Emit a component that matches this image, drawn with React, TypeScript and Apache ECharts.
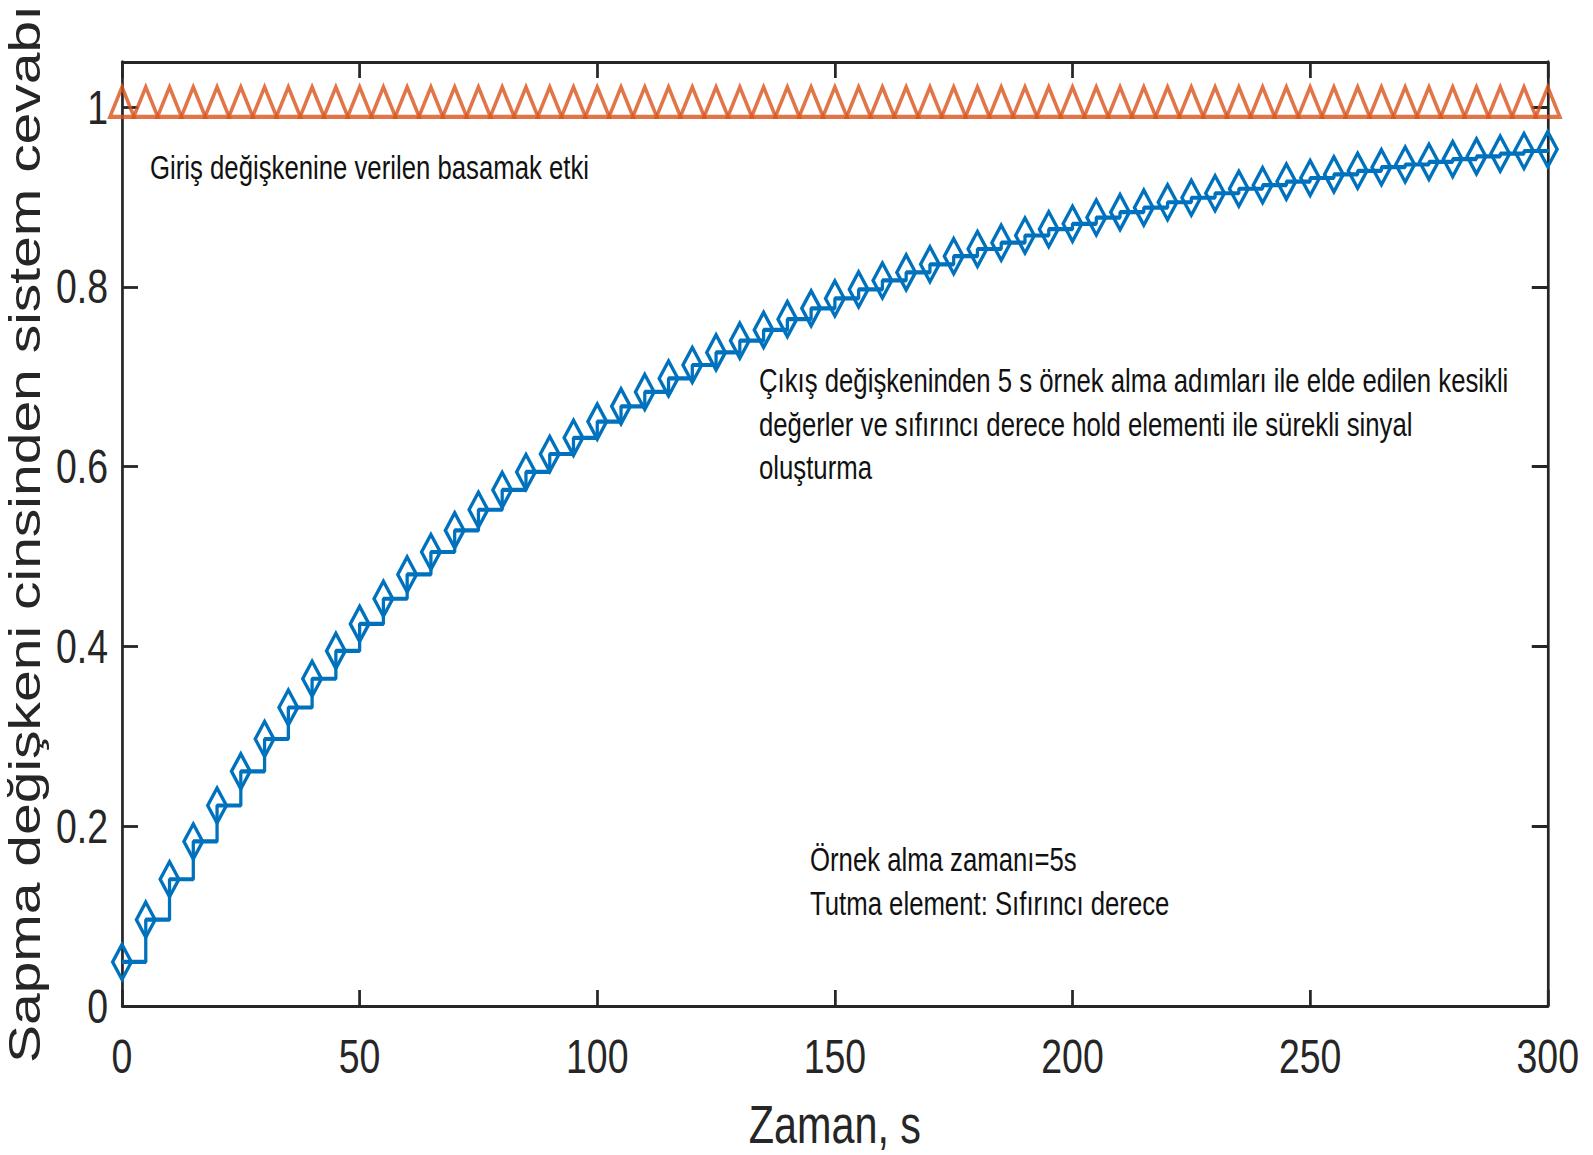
import React, { useEffect, useRef } from "react";
import * as echarts from "echarts";

const times = [
  0, 5, 10, 15, 20, 25, 30, 35, 40, 45, 50, 55, 60, 65, 70, 75, 80, 85, 90, 95,
  100, 105, 110, 115, 120, 125, 130, 135, 140, 145, 150, 155, 160, 165, 170, 175,
  180, 185, 190, 195, 200, 205, 210, 215, 220, 225, 230, 235, 240, 245, 250, 255,
  260, 265, 270, 275, 280, 285, 290, 295, 300,
];

const outputValues = [
  0.049, 0.096, 0.141, 0.183, 0.223, 0.261, 0.297, 0.332, 0.364, 0.395,
  0.425, 0.453, 0.480, 0.505, 0.529, 0.552, 0.574, 0.594, 0.614, 0.632,
  0.650, 0.667, 0.683, 0.698, 0.713, 0.727, 0.740, 0.752, 0.764, 0.776,
  0.787, 0.797, 0.807, 0.816, 0.825, 0.834, 0.842, 0.849, 0.857, 0.864,
  0.870, 0.877, 0.883, 0.888, 0.894, 0.899, 0.904, 0.909, 0.913, 0.917,
  0.921, 0.925, 0.929, 0.933, 0.936, 0.939, 0.942, 0.945, 0.948, 0.951,
  0.953,
];

const inputValues = [
  1, 1, 1, 1, 1, 1, 1, 1, 1, 1, 1, 1, 1, 1, 1, 1, 1, 1, 1, 1,
  1, 1, 1, 1, 1, 1, 1, 1, 1, 1, 1, 1, 1, 1, 1, 1, 1, 1, 1, 1,
  1, 1, 1, 1, 1, 1, 1, 1, 1, 1, 1, 1, 1, 1, 1, 1, 1, 1, 1, 1,
  1,
];

const xAxisTitle = "Zaman, s";
const yAxisTitle = "Sapma değişkeni cinsinden sistem cevabı";
const inputNote = "Giriş değişkenine verilen basamak etki";
const outputNoteLines = [
  "Çıkış değişkeninden 5 s örnek alma adımları ile elde edilen kesikli",
  "değerler ve sıfırıncı derece hold elementi ile sürekli sinyal",
  "oluşturma",
];
const samplingNoteLines = ["Örnek alma zamanı=5s", "Tutma element: Sıfırıncı derece"];

const BLUE = "#0072BD";
const ORANGE = "#D95319";
const AXIS = "#262626";
const FONT = "'Liberation Sans', Arial, Helvetica, sans-serif";

// The reference figure is horizontally condensed; draw on a wider canvas and squeeze it.
const SQUEEZE = 0.78;
const VIEW_W = 1593;
const VIEW_H = 1155;
const CANVAS_W = VIEW_W / SQUEEZE;
const sx = (px: number) => px / SQUEEZE;

export default function App() {
  const ref = useRef<HTMLDivElement>(null);

  useEffect(() => {
    if (!ref.current) return;
    const chart = echarts.init(ref.current, undefined, { renderer: "svg" });

    const outData = times.map((t, i) => [t, outputValues[i]]);
    const inData = times.map((t, i) => [t, inputValues[i]]);

    const xAxisLine = { show: true, onZero: false, lineStyle: { color: AXIS, width: 2.8 } };
    const yAxisLine = { show: true, onZero: false, lineStyle: { color: AXIS, width: 3.5 } };
    const xTick = { show: true, inside: true, length: 16, lineStyle: { color: AXIS, width: 3.5 } };
    const yTick = { show: true, inside: true, length: sx(16), lineStyle: { color: AXIS, width: 2.8 } };

    const noteStyle = {
      fontFamily: FONT,
      fontSize: 33,
      fill: "#111",
      verticalAlign: "top",
      align: "left",
    };

    chart.setOption({
      animation: false,
      backgroundColor: "#fff",
      grid: {
        left: sx(122),
        right: sx(45),
        top: 62,
        bottom: 149,
        containLabel: false,
        outerBoundsMode: "none",
      },
      xAxis: [
        {
          type: "value",
          min: 0,
          max: 300,
          interval: 50,
          position: "bottom",
          axisLine: xAxisLine,
          axisTick: xTick,
          splitLine: { show: false },
          axisLabel: {
            show: true,
            margin: 26,
            color: AXIS,
            fontFamily: FONT,
            fontSize: 48,
          },
          name: xAxisTitle,
          nameLocation: "middle",
          nameGap: 92,
          nameTextStyle: { color: AXIS, fontFamily: FONT, fontSize: 53 },
        },
        {
          type: "value",
          min: 0,
          max: 300,
          interval: 50,
          position: "top",
          axisLine: xAxisLine,
          axisTick: xTick,
          splitLine: { show: false },
          axisLabel: { show: false },
        },
      ],
      yAxis: [
        {
          type: "value",
          min: 0,
          max: 1.05,
          interval: 0.2,
          position: "left",
          axisLine: yAxisLine,
          axisTick: yTick,
          splitLine: { show: false },
          axisLabel: {
            show: true,
            margin: 18,
            color: AXIS,
            fontFamily: FONT,
            fontSize: 48,
            showMaxLabel: false,
          },
          name: yAxisTitle,
          nameLocation: "middle",
          nameRotate: 90,
          nameGap: 78,
          nameTextStyle: { color: AXIS, fontFamily: FONT, fontSize: 57 },
        },
        {
          type: "value",
          min: 0,
          max: 1.05,
          interval: 0.2,
          position: "right",
          axisLine: yAxisLine,
          axisTick: yTick,
          splitLine: { show: false },
          axisLabel: { show: false },
        },
      ],
      series: [
        {
          name: "output",
          type: "line",
          data: outData,
          step: "end",
          symbol: "diamond",
          symbolSize: [24, 35],
          showSymbol: true,
          showAllSymbol: true,
          clip: false,
          lineStyle: { color: BLUE, width: 4.2 },
          itemStyle: { color: "rgba(255,255,255,0)", borderColor: BLUE, borderWidth: 4.2 },
          emphasis: { disabled: true },
          z: 3,
        },
        {
          name: "input",
          type: "scatter",
          data: inData,
          symbol: "triangle",
          symbolSize: [31, 30],
          symbolOffset: [0, -5],
          clip: false,
          itemStyle: { color: "rgba(255,255,255,0)", borderColor: ORANGE, borderWidth: 4.3 },
          emphasis: { disabled: true },
          z: 4,
        },
      ],
      graphic: [
        {
          type: "text",
          x: sx(150),
          y: 151,
          style: { ...noteStyle, text: inputNote },
        },
        {
          type: "text",
          x: sx(759),
          y: 359,
          style: { ...noteStyle, text: outputNoteLines.join("\n"), lineHeight: 43.5 },
        },
        {
          type: "text",
          x: sx(810),
          y: 838,
          style: { ...noteStyle, text: samplingNoteLines.join("\n"), lineHeight: 43.5 },
        },
      ],
    });

    return () => chart.dispose();
  }, []);

  return (
    <div
      style={{
        position: "fixed",
        left: 0,
        top: 0,
        width: VIEW_W,
        height: VIEW_H,
        overflow: "hidden",
        background: "#fff",
      }}
    >
      <div
        ref={ref}
        style={{
          position: "absolute",
          left: 0,
          top: 0,
          width: CANVAS_W,
          height: VIEW_H,
          transform: `scaleX(${SQUEEZE})`,
          transformOrigin: "0 0",
        }}
      />
    </div>
  );
}
